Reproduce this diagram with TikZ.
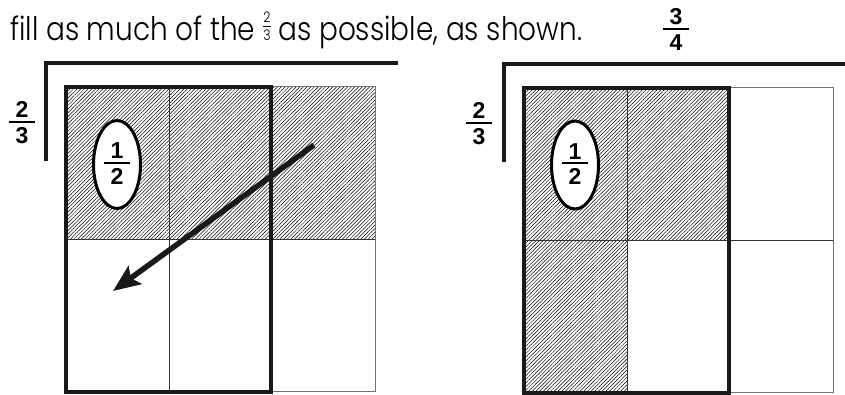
\documentclass[tikz,border=0pt]{standalone}
\usepackage{fontspec}
\IfFontExistsTF{Poppins Light}{\setmainfont{Poppins Light}}{\setmainfont{Poppins}}
\newfontfamily\heros{Liberation Sans}
\usetikzlibrary{patterns.meta,arrows.meta,shapes.geometric}
\newcommand\bfrac[2]{\ooalign{\hfil\raisebox{25.5pt}{#1}\hfil\cr\hfil\raisebox{20.5pt}{\rule{26pt}{1.6pt}}\hfil\cr\hfil#2\hfil\cr}}
\newcommand\minifrac[2]{{\fontsize{14.5}{14.5}\selectfont\ooalign{\hfil\raisebox{17.5pt}{#1}\hfil\cr\hfil\raisebox{13pt}{\rule{9pt}{0.7pt}}\hfil\cr\hfil#2\hfil\cr}}}
\tikzset{
  hatch/.style={pattern={Lines[angle=45,distance=2.6pt,line width=0.5pt]}},
  thingrid/.style={draw=black!80, line width=1pt},
  outergrid/.style={draw=black!55, line width=1pt},
  thickframe/.style={draw=black!90, line width=4pt},
  bracket/.style={draw=black!90, line width=4pt},
  bubble/.style={ellipse, draw, line width=3pt, fill=white, minimum width=47pt, minimum height=88pt, inner sep=0pt},
  arr/.style={draw=black!90, line width=5.5pt, -{Stealth[length=27pt,width=22pt,inset=5pt]}},
  fraclabel/.style={font=\heros\bfseries\fontsize{23}{23}\selectfont, inner sep=0pt, anchor=base},
}
\begin{document}
\begin{tikzpicture}[x=1pt,y=-1pt]
\useasboundingbox (0,0) rectangle (845,394);
\fill[white] (0,0) rectangle (845,394);
% caption
\node[anchor=base west, inner sep=0pt, font=\fontsize{32.5}{32.5}\selectfont] (caption) at (10,40) {\scalebox{0.86}[1]{fill as much of the \minifrac{2}{3} as possible, as shown.}};
\node[fraclabel] (threequarters) at (676,50) {\bfrac{3}{4}};
% ---------- left panel ----------
\fill[hatch] (66,86.5) rectangle (375,239.5);
\draw[thingrid] (169,86.5) -- (169,391.5);
\draw[thingrid] (66,239.5) -- (375,239.5);
\draw[outergrid] (270.5,86.5) -- (375,86.5) -- (375,391.5) -- (270.5,391.5);
\draw[thickframe] (66,86.5) rectangle (270.5,391.5);
\draw[bracket] (46,161) -- (46,63) -- (398,63);
\node[fraclabel] (leftTwoThirds) at (22,143) {\bfrac{2}{3}};
\node[bubble] (leftBubble) at (117,164.5) {};
\node[fraclabel] (leftHalf) at (117,184) {\bfrac{1}{2}};
\coordinate (arrowStart) at (314,145);
\coordinate (arrowEnd) at (113,291);
\draw[arr] (arrowStart) -- (arrowEnd);
% ---------- right panel ----------
\fill[hatch] (524,87.5) rectangle (728.5,240.5);
\fill[hatch] (524,240.5) rectangle (627,392.5);
\draw[thingrid] (627,87.5) -- (627,392.5);
\draw[thingrid] (524,240.5) -- (833,240.5);
\draw[outergrid] (728.5,87.5) -- (833,87.5) -- (833,392.5) -- (728.5,392.5);
\draw[thickframe] (524,87.5) rectangle (728.5,392.5);
\draw[bracket] (504,162) -- (504,64) -- (845,64);
\node[fraclabel] (rightTwoThirds) at (479,144) {\bfrac{2}{3}};
\node[bubble] (rightBubble) at (575,165) {};
\node[fraclabel] (rightHalf) at (575,184.5) {\bfrac{1}{2}};
\end{tikzpicture}
\end{document}
